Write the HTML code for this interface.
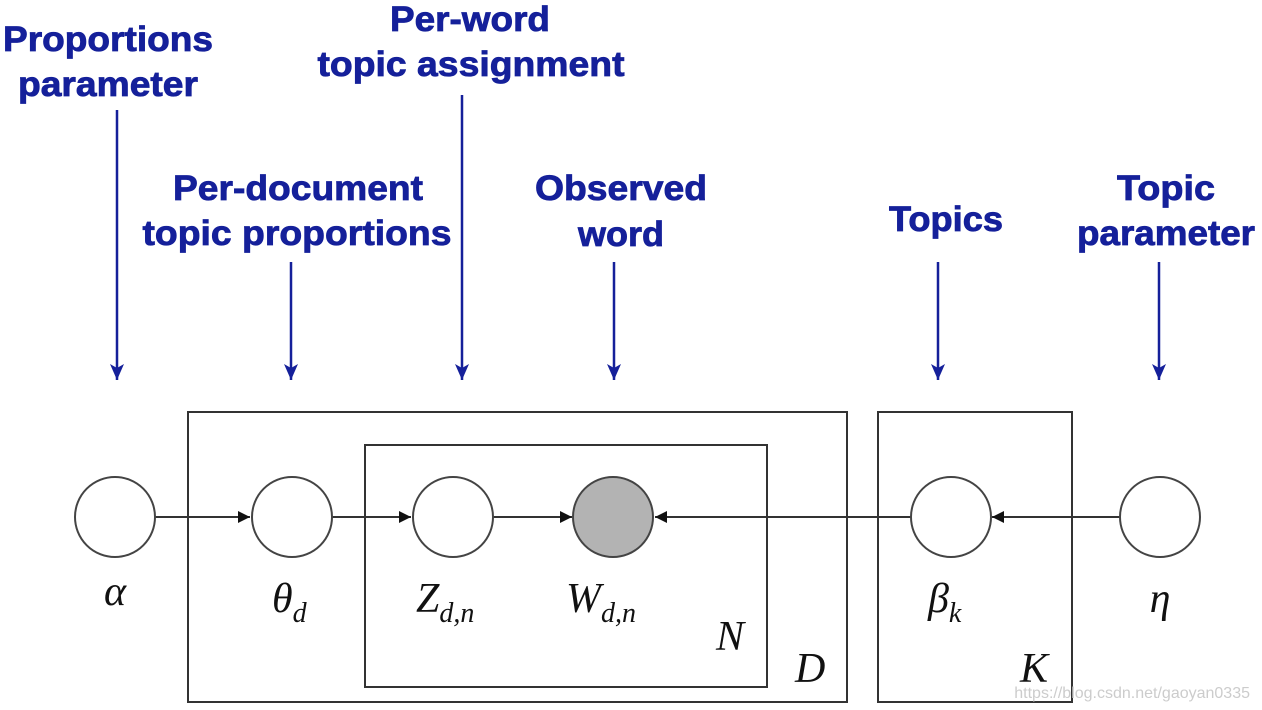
<!DOCTYPE html>
<html><head><meta charset="utf-8"><style>
html,body{margin:0;padding:0;background:#fff;}
svg{display:block;}
.t{font-family:"Liberation Sans",sans-serif;font-weight:bold;font-size:35px;fill:#15209a;stroke:#15209a;stroke-width:0.8;}
.m{font-family:"Liberation Serif",serif;font-style:italic;font-size:42px;fill:#111;}
.s{font-family:"Liberation Serif",serif;font-style:italic;font-size:28px;fill:#111;}
</style></head><body>
<svg width="1262" height="710" viewBox="0 0 1262 710" xmlns="http://www.w3.org/2000/svg">
<defs>
<marker id="a" viewBox="0 0 14 16" refX="7" refY="16" markerWidth="14" markerHeight="16" markerUnits="userSpaceOnUse" orient="0"><path d="M0,0L7,4L14,0L7,16z" fill="#15209a"/></marker>
<marker id="b" viewBox="0 0 10 10" refX="10" refY="5" markerWidth="14" markerHeight="12" markerUnits="userSpaceOnUse" orient="auto"><path d="M0,0L10,5L0,10z" fill="#111"/></marker>
</defs>
<text class="t" x="108" y="51" text-anchor="middle" textLength="210" lengthAdjust="spacingAndGlyphs">Proportions</text>
<text class="t" x="108" y="96" text-anchor="middle" textLength="180" lengthAdjust="spacingAndGlyphs">parameter</text>
<text class="t" x="470" y="31" text-anchor="middle" textLength="160" lengthAdjust="spacingAndGlyphs">Per-word</text>
<text class="t" x="471" y="76" text-anchor="middle" textLength="307" lengthAdjust="spacingAndGlyphs">topic assignment</text>
<text class="t" x="298" y="200" text-anchor="middle" textLength="250" lengthAdjust="spacingAndGlyphs">Per-document</text>
<text class="t" x="297" y="245" text-anchor="middle" textLength="309" lengthAdjust="spacingAndGlyphs">topic proportions</text>
<text class="t" x="621" y="200" text-anchor="middle" textLength="172" lengthAdjust="spacingAndGlyphs">Observed</text>
<text class="t" x="621" y="246" text-anchor="middle" textLength="86" lengthAdjust="spacingAndGlyphs">word</text>
<text class="t" x="946" y="231" text-anchor="middle" textLength="114" lengthAdjust="spacingAndGlyphs">Topics</text>
<text class="t" x="1166" y="200" text-anchor="middle" textLength="98" lengthAdjust="spacingAndGlyphs">Topic</text>
<text class="t" x="1166" y="245" text-anchor="middle" textLength="178" lengthAdjust="spacingAndGlyphs">parameter</text>
<g stroke="#15209a" stroke-width="2.5" fill="none">
<line x1="117" y1="110" x2="117" y2="380" marker-end="url(#a)"/>
<line x1="291" y1="262" x2="291" y2="380" marker-end="url(#a)"/>
<line x1="462" y1="95" x2="462" y2="380" marker-end="url(#a)"/>
<line x1="614" y1="262" x2="614" y2="380" marker-end="url(#a)"/>
<line x1="938" y1="262" x2="938" y2="380" marker-end="url(#a)"/>
<line x1="1159" y1="262" x2="1159" y2="380" marker-end="url(#a)"/>
</g>
<g stroke="#333" stroke-width="2" fill="none">
<rect x="188" y="412" width="659" height="290"/>
<rect x="365" y="445" width="402" height="242"/>
<rect x="878" y="412" width="194" height="290"/>
<line x1="155" y1="517" x2="250" y2="517" marker-end="url(#b)"/>
<line x1="332" y1="517" x2="411" y2="517" marker-end="url(#b)"/>
<line x1="493" y1="517" x2="572" y2="517" marker-end="url(#b)"/>
<line x1="911" y1="517" x2="655" y2="517" marker-end="url(#b)"/>
<line x1="1120" y1="517" x2="992" y2="517" marker-end="url(#b)"/>
</g>
<g stroke="#444" stroke-width="2" fill="#fff">
<circle cx="115" cy="517" r="40"/>
<circle cx="292" cy="517" r="40"/>
<circle cx="453" cy="517" r="40"/>
<circle cx="613" cy="517" r="40" fill="#b3b3b3"/>
<circle cx="951" cy="517" r="40"/>
<circle cx="1160" cy="517" r="40"/>
</g>
<text class="m" x="115" y="605" text-anchor="middle">α</text>
<text class="m" x="272" y="612">θ<tspan class="s" dy="10">d</tspan></text>
<text class="m" x="416" y="612">Z<tspan class="s" dy="10">d,n</tspan></text>
<text class="m" x="566" y="612">W<tspan class="s" dy="10">d,n</tspan></text>
<text class="m" x="928" y="612">β<tspan class="s" dy="10">k</tspan></text>
<text class="m" x="1160" y="612" text-anchor="middle">η</text>
<text class="m" x="716" y="650">N</text>
<text class="m" x="795" y="682">D</text>
<text class="m" x="1020" y="682">K</text>
<text x="1250" y="698" text-anchor="end" font-family="Liberation Sans,sans-serif" font-size="16" fill="#ccc">https://blog.csdn.net/gaoyan0335</text>
</svg>
</body></html>
